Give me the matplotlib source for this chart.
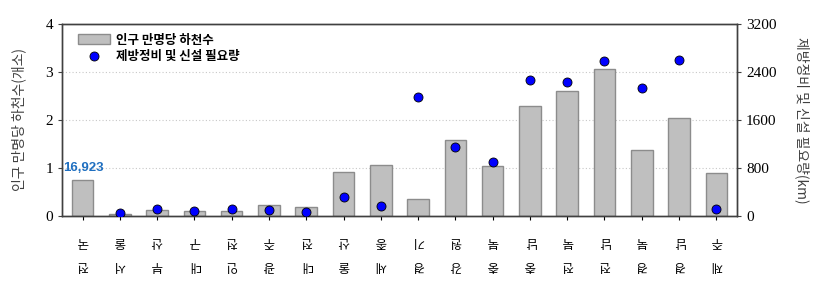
import numpy as np
import matplotlib
matplotlib.use("Agg")
import matplotlib.pyplot as plt
from matplotlib.patches import Patch
from matplotlib.lines import Line2D

plt.rcParams['font.family'] = ['Noto Sans CJK KR', 'DejaVu Sans']

# 지역별 데이터
regions = ['전국', '서울', '부산', '대구', '인천', '광주', '대전', '울산', '세종',
           '경기', '강원', '충북', '충남', '전북', '전남', '경북', '경남', '제주']
rivers_per_10k = [0.74, 0.035, 0.125, 0.10, 0.10, 0.235, 0.19, 0.91, 1.06,
                  0.35, 1.59, 1.04, 2.29, 2.60, 3.06, 1.375, 2.05, 0.90]
# 전국 값(16,923)은 축 범위를 벗어나므로 점 없이 숫자로만 표시
levee_km = [np.nan, 45, 122, 83, 117, 94, 67, 311, 172,
            1978, 1144, 906, 2267, 2233, 2578, 2139, 2606, 117]
national_label = '16,923'

serif = 'Liberation Serif'

fig = plt.figure(figsize=(8.18, 2.95), dpi=100)
ax = fig.add_axes([0.0758, 0.268, 0.825, 0.651])
ax2 = ax.twinx()

x = np.arange(len(regions))
ax.bar(x, rivers_per_10k, width=0.58, color='#bfbfbf', edgecolor='#8c8c8c',
       linewidth=1.0, zorder=2)
ax2.plot(x, levee_km, linestyle='none', marker='o', markersize=6.5,
         markerfacecolor='#0000ff', markeredgecolor='black',
         markeredgewidth=0.6, zorder=3)

ax.set_xlim(-0.55, len(regions) - 0.45)
ax.set_ylim(0, 4)
ax2.set_ylim(0, 3200)
ax.set_yticks([0, 1, 2, 3, 4])
ax2.set_yticks([0, 800, 1600, 2400, 3200])
for y in [1, 2, 3]:
    ax.axhline(y, color='#c8c8c8', linestyle=(0, (1, 2)), linewidth=0.8, zorder=1)

ax.set_xticks(x)
ax.set_xticklabels(['\n'.join(r) for r in regions], rotation=180,
                   fontsize=9, linespacing=2.1)
ax.tick_params(axis='x', length=3, pad=11, color='black')
ax.tick_params(axis='y', length=3, labelsize=11, color='#404040')
ax2.tick_params(axis='y', length=3, labelsize=11, color='#404040')
for lab in ax.get_yticklabels() + ax2.get_yticklabels():
    lab.set_fontfamily(serif)

for a in (ax, ax2):
    for s in a.spines.values():
        s.set_color('#404040')
        s.set_linewidth(1.0)

ax.set_ylabel('인구 만명당 하천수(개소)', fontsize=10, color='#404040', labelpad=14)
ax2.set_ylabel('제방정비 및 신설 필요량(km)', fontsize=10, color='#404040',
               rotation=270, labelpad=24)

ax.text(0.03, 0.88, national_label, ha='center', va='bottom', color='#1f6fc0',
        fontsize=9.5, fontweight='bold', fontfamily='Liberation Sans')

handles = [Patch(facecolor='#bfbfbf', edgecolor='#8c8c8c', label='인구 만명당 하천수'),
           Line2D([], [], linestyle='none', marker='o', markersize=6.5,
                  markerfacecolor='#0000ff', markeredgecolor='black',
                  markeredgewidth=0.6, label='제방정비 및 신설 필요량')]
ax.legend(handles=handles, loc='upper left', bbox_to_anchor=(0.01, 0.995),
          frameon=False, prop={'size': 9, 'weight': 'bold'},
          handlelength=2.6, handleheight=0.8, handletextpad=0.5,
          labelspacing=0.3, borderaxespad=0.3)

fig.savefig('out.png', dpi=100)
